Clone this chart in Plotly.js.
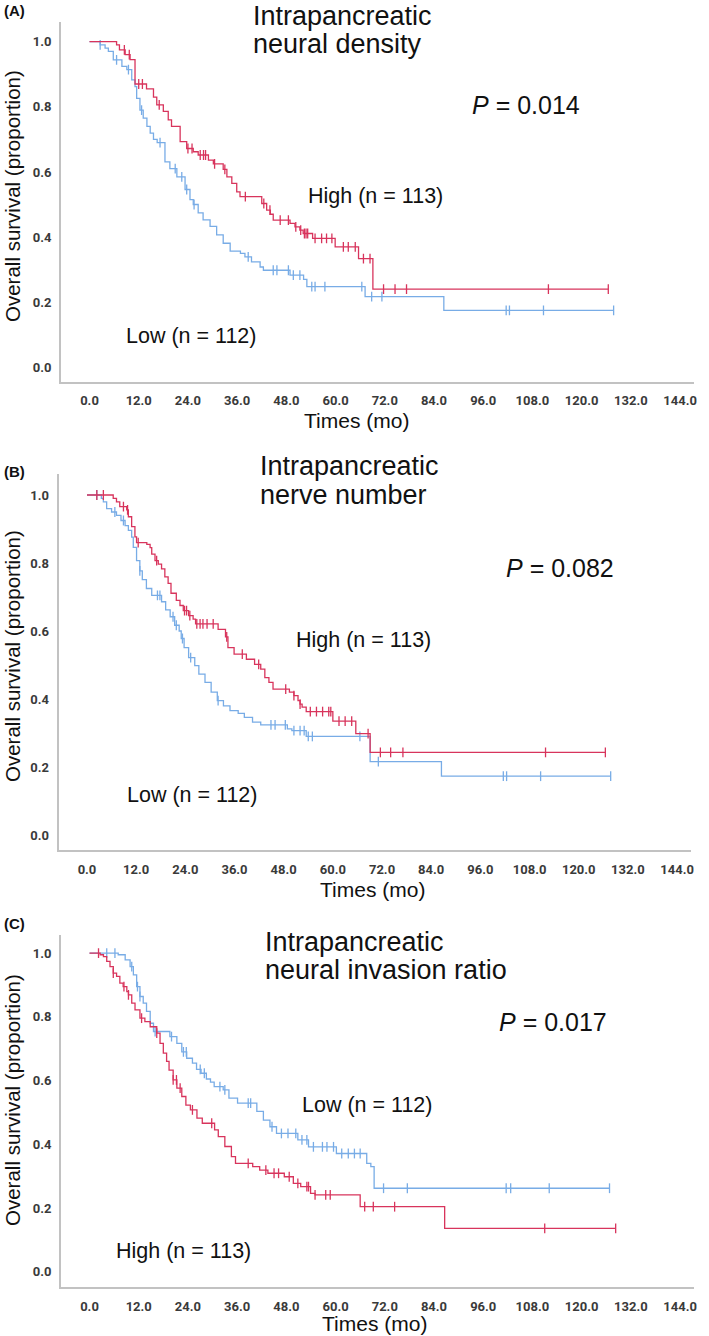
<!DOCTYPE html>
<html><head><meta charset="utf-8">
<script src="https://cdn.plot.ly/plotly-3.0.1.min.js"></script>
<style>html,body{margin:0;padding:0;background:#fff;}#chart{width:709px;height:1336px;}</style>
</head><body><div id="chart"></div>
<script>
// ---------- Panel A: Intrapancreatic neural density ----------
const aHighT = [0, 6.6, 7.3, 8.7, 9.9, 11.1, 13.9, 15.6, 16.4, 18.0, 19.2, 20.0, 22.1, 23.7, 25.3, 26.5, 29.0, 30.2, 32.6, 33.5, 34.7, 35.9, 36.7, 42.0, 43.2, 44.1, 44.8, 48.9, 50.1, 51.3, 52.1, 54.4, 59.9, 65.6, 69.1, 126.5];
const aHighS = [1.0, 0.99, 0.975, 0.96, 0.945, 0.87, 0.855, 0.83, 0.806, 0.786, 0.76, 0.74, 0.693, 0.672, 0.662, 0.652, 0.636, 0.625, 0.608, 0.585, 0.565, 0.539, 0.524, 0.503, 0.483, 0.470, 0.452, 0.442, 0.431, 0.421, 0.411, 0.396, 0.370, 0.334, 0.240, 0.240];
const aHighCens = [8.5, 9.7, 12.0, 12.9, 17.0, 24.0, 25.0, 27.0, 27.8, 28.3, 30.5, 33.0, 38.0, 42.5, 44.0, 46.5, 48.5, 50.3, 51.5, 52.4, 52.8, 53.2, 55.0, 56.6, 57.8, 59.1, 61.9, 63.1, 64.8, 66.8, 68.4, 71.7, 74.5, 77.3, 111.9, 126.5];
const aLowT = [0, 2.6, 3.8, 4.6, 5.8, 7.9, 9.1, 10.3, 11.1, 11.5, 12.3, 13.1, 14.0, 14.8, 15.6, 16.5, 18.4, 19.6, 21.3, 23.3, 24.5, 25.3, 26.5, 27.7, 29.4, 31.0, 32.6, 34.3, 36.8, 37.9, 39.5, 41.6, 42.4, 48.9, 52.2, 53.0, 67.2, 86.4, 127.8];
const aLowS = [1.0, 0.99, 0.98, 0.97, 0.944, 0.924, 0.914, 0.883, 0.862, 0.826, 0.79, 0.765, 0.74, 0.719, 0.70, 0.69, 0.631, 0.61, 0.585, 0.546, 0.515, 0.50, 0.474, 0.453, 0.433, 0.407, 0.381, 0.357, 0.350, 0.339, 0.324, 0.308, 0.298, 0.283, 0.270, 0.248, 0.217, 0.175, 0.175];
const aLowCens = [2.6, 6.6, 9.5, 12.7, 17.2, 20.9, 22.5, 23.7, 25.5, 38.7, 44.8, 45.7, 48.5, 49.7, 51.3, 54.2, 55.0, 57.4, 66.4, 68.8, 71.3, 101.6, 102.4, 110.7, 127.8];

// ---------- Panel B: Intrapancreatic nerve number ----------
const bHighT = [0, 6.4, 7.2, 8.0, 9.7, 10.1, 10.9, 11.7, 12.1, 14.6, 15.4, 15.8, 16.6, 17.4, 18.2, 19.0, 19.8, 20.5, 21.8, 22.7, 23.5, 24.8, 25.9, 26.5, 32.0, 33.8, 34.4, 35.9, 38.9, 40.9, 42.4, 43.4, 44.4, 45.4, 49.4, 50.5, 51.5, 52.0, 52.5, 53.5, 60.0, 65.6, 69.1, 126.5];
const bHighS = [1.0, 0.99, 0.98, 0.966, 0.956, 0.936, 0.907, 0.877, 0.86, 0.855, 0.845, 0.826, 0.807, 0.797, 0.783, 0.759, 0.74, 0.711, 0.69, 0.675, 0.66, 0.645, 0.635, 0.621, 0.605, 0.583, 0.551, 0.532, 0.517, 0.502, 0.488, 0.463, 0.449, 0.429, 0.42, 0.41, 0.395, 0.385, 0.376, 0.363, 0.335, 0.298, 0.243, 0.243];
const bHighCens = [2.4, 4.0, 8.9, 9.9, 12.5, 17.0, 23.8, 24.3, 25.1, 26.8, 27.6, 28.3, 29.3, 30.8, 34.1, 37.9, 41.9, 48.5, 50.5, 52.0, 54.5, 56.0, 57.5, 59.0, 59.5, 61.5, 63.0, 64.6, 68.6, 71.6, 74.1, 77.1, 111.9, 126.5];
const bLowT = [0, 3.5, 4.0, 4.8, 6.0, 7.2, 8.3, 9.3, 10.1, 10.9, 11.3, 12.1, 12.9, 13.5, 14.5, 15.8, 18.2, 19.2, 20.3, 21.4, 22.5, 23.0, 23.7, 24.8, 26.3, 27.3, 28.8, 30.3, 31.8, 33.3, 34.9, 36.9, 38.4, 40.4, 42.4, 48.9, 50.0, 53.5, 69.1, 86.5, 127.8];
const bLowS = [1.0, 0.99, 0.98, 0.96, 0.95, 0.94, 0.925, 0.91, 0.896, 0.876, 0.846, 0.807, 0.777, 0.751, 0.725, 0.705, 0.686, 0.662, 0.642, 0.617, 0.60, 0.578, 0.551, 0.522, 0.498, 0.473, 0.449, 0.42, 0.395, 0.38, 0.366, 0.358, 0.346, 0.332, 0.324, 0.312, 0.307, 0.29, 0.216, 0.173, 0.173];
const bLowCens = [2.4, 6.8, 8.9, 12.9, 17.2, 17.8, 21.0, 21.8, 23.3, 25.3, 32.0, 44.9, 45.9, 48.4, 50.5, 52.0, 53.0, 54.0, 55.0, 66.6, 71.1, 101.6, 102.4, 110.7, 127.8];

// ---------- Panel C: Intrapancreatic neural invasion ratio ----------
const cHighT = [0, 2.6, 3.4, 4.2, 5.0, 5.8, 6.6, 7.4, 8.2, 9.1, 9.5, 10.3, 11.1, 12.3, 13.5, 14.8, 16.4, 17.2, 18.0, 18.8, 19.4, 20.4, 21.3, 22.5, 23.5, 24.6, 26.2, 27.5, 30.5, 31.4, 33.0, 34.6, 35.6, 39.8, 41.5, 43.5, 47.5, 49.7, 51.5, 53.9, 55.0, 66.0, 86.6, 128.3];
const cHighS = [1.0, 0.995, 0.989, 0.974, 0.958, 0.937, 0.927, 0.906, 0.895, 0.879, 0.869, 0.843, 0.822, 0.796, 0.785, 0.769, 0.749, 0.717, 0.686, 0.66, 0.633, 0.602, 0.576, 0.55, 0.523, 0.508, 0.482, 0.466, 0.445, 0.424, 0.393, 0.361, 0.340, 0.330, 0.319, 0.309, 0.298, 0.277, 0.267, 0.246, 0.241, 0.204, 0.136, 0.136];
const cHighCens = [2.2, 5.8, 8.4, 9.5, 12.7, 16.4, 20.4, 21.2, 22.1, 25.1, 29.8, 38.7, 43.0, 45.0, 46.1, 48.7, 50.8, 53.0, 53.4, 55.0, 57.6, 58.7, 67.1, 69.2, 74.4, 111.0, 128.3];
const cLowT = [0, 7.0, 8.7, 9.9, 10.7, 11.5, 12.3, 13.1, 13.9, 14.8, 15.6, 19.6, 21.3, 22.5, 23.7, 25.1, 26.1, 27.2, 28.5, 29.5, 30.4, 32.6, 34.0, 36.1, 40.8, 42.4, 44.0, 45.6, 50.8, 53.4, 60.2, 67.6, 68.6, 69.4, 126.8];
const cLowS = [1.0, 0.995, 0.979, 0.958, 0.932, 0.895, 0.864, 0.843, 0.817, 0.780, 0.754, 0.738, 0.717, 0.69, 0.67, 0.655, 0.635, 0.623, 0.605, 0.595, 0.581, 0.571, 0.545, 0.529, 0.503, 0.476, 0.455, 0.434, 0.414, 0.392, 0.371, 0.34, 0.33, 0.262, 0.262];
const cLowCens = [4.2, 6.2, 10.3, 11.7, 12.3, 16.0, 20.0, 22.9, 23.6, 27.0, 28.0, 31.8, 33.0, 38.7, 39.3, 44.5, 46.8, 48.4, 50.3, 51.8, 53.0, 54.6, 56.8, 57.9, 59.5, 61.5, 63.1, 64.6, 66.0, 71.7, 77.5, 101.6, 102.7, 112.1, 126.8];

// ---------- Texts ----------
const panelLetters = ['(A)', '(B)', '(C)'];
const titleLines = [['Intrapancreatic', 'neural density'], ['Intrapancreatic', 'nerve number'], ['Intrapancreatic', 'neural invasion ratio']];
const pValues = ['0.014', '0.082', '0.017'];
const highLabel = 'High (n = 113)';
const lowLabel = 'Low (n = 112)';
const yTitle = 'Overall survival (proportion)';
const xTitle = 'Times (mo)';

const RED = '#d8345c';
const BLUE = '#78ace6';
const W = 709, H = 1336;
const px = x => x / W;
const py = y => 1 - y / H;

function survAt(ts, ss, t) {
  let v = ss[0];
  for (let i = 0; i < ts.length; i++) { if (ts[i] <= t) v = ss[i]; }
  return v;
}
function curve(ts, ss, color, ax) {
  return { x: ts, y: ss, type: 'scatter', mode: 'lines', line: { shape: 'hv', color: color, width: 1.3 },
           xaxis: ax[0], yaxis: ax[1], hoverinfo: 'skip' };
}
function cens(cs, ts, ss, color, ax) {
  return { x: cs, y: cs.map(t => survAt(ts, ss, t)), type: 'scatter', mode: 'markers',
           marker: { symbol: 'line-ns-open', size: 7, color: color, line: { color: color, width: 1.3 } },
           xaxis: ax[0], yaxis: ax[1], hoverinfo: 'skip' };
}
const axA = ['x', 'y'], axB = ['x2', 'y2'], axC = ['x3', 'y3'];
const data = [
  curve(aLowT, aLowS, BLUE, axA), cens(aLowCens, aLowT, aLowS, BLUE, axA),
  curve(aHighT, aHighS, RED, axA), cens(aHighCens, aHighT, aHighS, RED, axA),
  curve(bLowT, bLowS, BLUE, axB), cens(bLowCens, bLowT, bLowS, BLUE, axB),
  curve(bHighT, bHighS, RED, axB), cens(bHighCens, bHighT, bHighS, RED, axB),
  curve(cLowT, cLowS, BLUE, axC), cens(cLowCens, cLowT, cLowS, BLUE, axC),
  curve(cHighT, cHighS, RED, axC), cens(cHighCens, cHighT, cHighS, RED, axC)
];

const tickFont = { family: 'Liberation Sans Narrow, Roboto, Arial, sans-serif', size: 13, color: '#3a3a3a', weight: 'bold' };
function xax(domain, anchor) {
  return { domain: domain, anchor: anchor, range: [-6.95, 147.4], tick0: 0, dtick: 12, tickformat: '.1f',
           showline: true, linecolor: '#c2c2c2', linewidth: 2, showgrid: false, zeroline: false,
           ticks: 'outside', ticklen: 6, tickcolor: 'rgba(0,0,0,0)', tickfont: tickFont, fixedrange: true };
}
function yax(domain, anchor, range) {
  return { domain: domain, anchor: anchor, range: range, tick0: 0, dtick: 0.2, tickformat: '.1f',
           showline: true, linecolor: '#c2c2c2', linewidth: 2, showgrid: false, zeroline: false,
           ticks: 'outside', ticklen: 5, tickcolor: 'rgba(0,0,0,0)', tickfont: tickFont, fixedrange: true };
}

const TF = 'Liberation Sans, Arial, Helvetica, sans-serif';
function ann(text, x, y, size, opts) {
  return Object.assign({ text: text, x: px(x), y: py(y), xref: 'paper', yref: 'paper', xanchor: 'left', yanchor: 'middle',
                         showarrow: false, font: { family: TF, size: size, color: '#111' } }, opts || {});
}
const bold = { family: TF, size: 15, color: '#111', weight: 'bold' };
const annotations = [
  // Panel A
  ann(panelLetters[0], 2, 10, 15, { font: bold }),
  ann(titleLines[0][0], 251, 16, 27), ann(titleLines[0][1], 251, 44, 27),
  ann('<i>P</i> = ' + pValues[0], 470, 105, 25),
  ann(highLabel, 306, 196, 21.5), ann(lowLabel, 124, 336, 21.5),
  ann(yTitle, 12, 196, 20.5, { textangle: -90, xanchor: 'center' }),
  ann(xTitle, 356, 421, 21, { xanchor: 'center' }),
  // Panel B
  ann(panelLetters[1], 2, 471, 15, { font: bold }),
  ann(titleLines[1][0], 258, 466, 27), ann(titleLines[1][1], 258, 495, 27),
  ann('<i>P</i> = ' + pValues[1], 504, 568, 25),
  ann(highLabel, 294, 640, 21.5), ann(lowLabel, 125, 795, 21.5),
  ann(yTitle, 12, 656, 20.5, { textangle: -90, xanchor: 'center' }),
  ann(xTitle, 372, 889, 21, { xanchor: 'center' }),
  // Panel C
  ann(panelLetters[2], 2, 924, 15, { font: bold }),
  ann(titleLines[2][0], 263, 942, 27), ann(titleLines[2][1], 263, 970, 27),
  ann('<i>P</i> = ' + pValues[2], 497, 1022, 25),
  ann(lowLabel, 300, 1105, 21.5), ann(highLabel, 114, 1251, 21.5),
  ann(yTitle, 12, 1100, 20.5, { textangle: -90, xanchor: 'center' }),
  ann(xTitle, 375, 1323, 21, { xanchor: 'center' })
];

const layout = {
  width: W, height: H, margin: { l: 0, r: 0, t: 0, b: 0 }, paper_bgcolor: '#fff', plot_bgcolor: '#fff',
  showlegend: false, hovermode: false,
  xaxis: xax([px(61), px(694)], 'y'),
  yaxis: yax([py(381.7), py(21.7)], 'x', [-0.0442, 1.0614]),
  xaxis2: xax([px(58.5), px(691)], 'y2'),
  yaxis2: yax([py(850), py(474)], 'x2', [-0.0441, 1.0618]),
  xaxis3: xax([px(61), px(694)], 'y3'),
  yaxis3: yax([py(1287.3), py(935)], 'x3', [-0.049, 1.057]),
  annotations: annotations
};
Plotly.newPlot('chart', data, layout, { staticPlot: true, displayModeBar: false });
</script>
</body></html>
